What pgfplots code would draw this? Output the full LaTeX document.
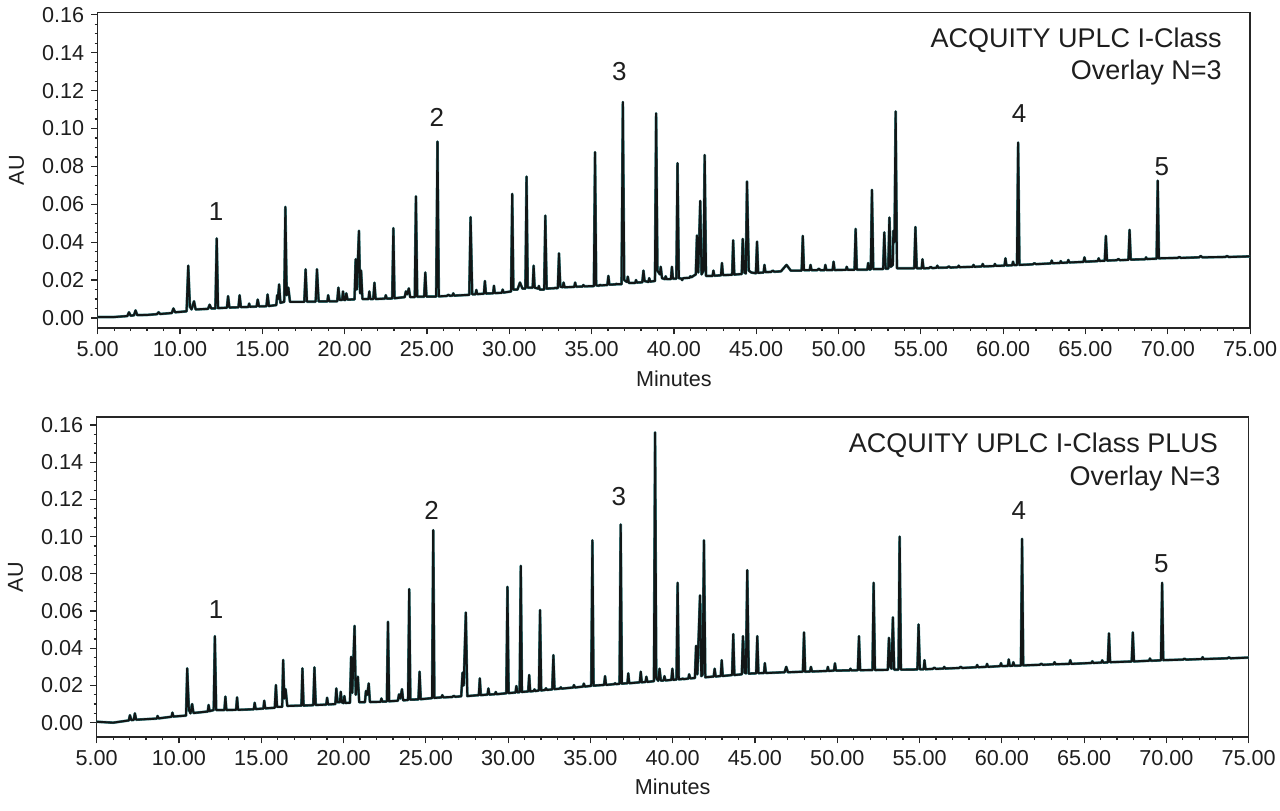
\documentclass[border=0pt]{standalone}
\usepackage{pgfplots}
\pgfplotsset{compat=1.18}
\usepackage{pgfplotstable}
\usepackage{fontspec}
\setmainfont{Liberation Sans}
\definecolor{txt}{HTML}{1E1E1E}
\definecolor{trace}{HTML}{121616}
\definecolor{teal2}{HTML}{3E8A8C}

\pgfplotstableread{
t v
5.00 0.0005
6.00 0.0005
6.80 0.0010
6.90 0.0030
7.00 0.0012
7.20 0.0014
7.30 0.0040
7.40 0.0015
8.00 0.0016
8.60 0.0020
8.70 0.0030
8.80 0.0021
9.50 0.0026
9.60 0.0050
9.70 0.0030
10.00 0.0032
10.40 0.0035
10.50 0.0276
10.60 0.0060
10.70 0.0045
10.85 0.0088
10.95 0.0045
11.70 0.0048
11.80 0.0070
11.90 0.0050
12.15 0.0050
12.23 0.0420
12.31 0.0052
12.85 0.0054
12.92 0.0115
13.00 0.0055
13.55 0.0056
13.62 0.0120
13.70 0.0057
14.15 0.0058
14.20 0.0076
14.25 0.0059
14.65 0.0060
14.72 0.0097
14.80 0.0061
15.25 0.0062
15.32 0.0124
15.40 0.0063
15.85 0.0068
15.90 0.0120
15.95 0.0100
16.02 0.0177
16.10 0.0080
16.33 0.0085
16.40 0.0586
16.48 0.0120
16.58 0.0160
16.68 0.0085
17.55 0.0085
17.63 0.0257
17.71 0.0086
18.24 0.0086
18.32 0.0257
18.42 0.0087
18.95 0.0087
19.00 0.0120
19.06 0.0088
19.55 0.0088
19.62 0.0160
19.70 0.0095
19.85 0.0095
19.90 0.0140
19.96 0.0095
20.05 0.0095
20.10 0.0130
20.18 0.0097
20.60 0.0098
20.67 0.0310
20.74 0.0150
20.87 0.0460
20.94 0.0130
21.00 0.0250
21.08 0.0100
21.45 0.0100
21.50 0.0140
21.56 0.0100
21.74 0.0100
21.81 0.0186
21.88 0.0100
22.45 0.0102
22.50 0.0120
22.56 0.0102
22.89 0.0103
22.96 0.0474
23.03 0.0104
23.65 0.0110
23.72 0.0140
23.80 0.0125
23.90 0.0156
23.98 0.0110
24.26 0.0110
24.33 0.0642
24.41 0.0112
24.83 0.0112
24.90 0.0240
24.97 0.0113
25.56 0.0113
25.64 0.0931
25.72 0.0114
26.20 0.0116
26.30 0.0122
26.40 0.0117
26.55 0.0118
26.60 0.0130
26.65 0.0118
27.57 0.0122
27.65 0.0532
27.75 0.0125
27.95 0.0125
28.00 0.0148
28.05 0.0126
28.46 0.0128
28.52 0.0195
28.58 0.0129
29.02 0.0130
29.07 0.0170
29.12 0.0131
29.55 0.0133
29.60 0.0150
29.65 0.0134
30.11 0.0140
30.18 0.0655
30.25 0.0150
30.50 0.0150
30.65 0.0187
30.80 0.0155
30.98 0.0155
31.05 0.0746
31.12 0.0160
31.42 0.0160
31.48 0.0276
31.54 0.0160
31.75 0.0155
31.80 0.0169
31.85 0.0150
32.12 0.0150
32.19 0.0540
32.27 0.0155
32.75 0.0157
32.80 0.0160
32.85 0.0157
32.95 0.0158
33.02 0.0341
33.10 0.0165
33.25 0.0162
33.30 0.0187
33.36 0.0162
33.95 0.0164
34.00 0.0187
34.06 0.0165
34.45 0.0166
34.50 0.0174
34.56 0.0167
35.14 0.0168
35.21 0.0875
35.28 0.0172
35.45 0.0170
35.50 0.0175
35.56 0.0172
35.96 0.0174
36.02 0.0222
36.08 0.0176
36.45 0.0177
36.50 0.0180
36.55 0.0178
36.82 0.0178
36.90 0.1140
36.98 0.0200
37.15 0.0190
37.20 0.0218
37.26 0.0185
37.65 0.0185
37.70 0.0200
37.75 0.0187
38.08 0.0188
38.15 0.0250
38.22 0.0195
38.45 0.0190
38.50 0.0210
38.56 0.0192
38.85 0.0195
38.92 0.1080
39.00 0.0250
39.15 0.0230
39.20 0.0270
39.28 0.0210
39.45 0.0205
39.50 0.0220
39.56 0.0205
39.82 0.0205
39.88 0.0270
39.94 0.0207
40.15 0.0207
40.22 0.0817
40.30 0.0210
40.45 0.0208
40.50 0.0200
40.56 0.0210
40.95 0.0212
41.00 0.0220
41.06 0.0215
41.33 0.0230
41.40 0.0435
41.48 0.0240
41.60 0.0618
41.68 0.0230
41.80 0.0250
41.87 0.0860
41.95 0.0222
42.35 0.0222
42.40 0.0250
42.46 0.0223
42.86 0.0225
42.92 0.0290
42.98 0.0226
43.54 0.0228
43.60 0.0410
43.67 0.0229
44.12 0.0232
44.18 0.0417
44.28 0.0240
44.37 0.0235
44.44 0.0720
44.55 0.0250
44.70 0.0240
44.98 0.0236
45.05 0.0403
45.12 0.0238
45.45 0.0240
45.50 0.0280
45.56 0.0242
45.90 0.0243
46.00 0.0250
46.10 0.0244
46.50 0.0246
46.84 0.0280
47.10 0.0250
47.76 0.0250
47.83 0.0433
47.90 0.0252
48.25 0.0252
48.30 0.0280
48.36 0.0252
48.70 0.0252
48.80 0.0260
48.90 0.0252
49.15 0.0252
49.20 0.0280
49.26 0.0253
49.64 0.0253
49.70 0.0297
49.76 0.0253
50.45 0.0254
50.50 0.0270
50.56 0.0254
50.97 0.0254
51.04 0.0470
51.11 0.0255
51.75 0.0255
51.80 0.0290
51.86 0.0256
51.96 0.0256
52.03 0.0676
52.11 0.0258
52.71 0.0258
52.78 0.0452
52.86 0.0260
53.02 0.0260
53.09 0.0530
53.17 0.0270
53.30 0.0280
53.33 0.0460
53.40 0.0400
53.47 0.1090
53.55 0.0262
54.60 0.0262
54.67 0.0480
54.75 0.0262
55.05 0.0262
55.10 0.0310
55.16 0.0262
55.50 0.0263
55.60 0.0270
55.70 0.0263
55.95 0.0265
56.00 0.0276
56.06 0.0265
56.60 0.0266
56.70 0.0272
56.80 0.0266
57.25 0.0268
57.30 0.0276
57.36 0.0268
58.15 0.0270
58.20 0.0280
58.26 0.0270
58.70 0.0272
58.76 0.0285
58.82 0.0272
59.45 0.0274
59.50 0.0285
59.56 0.0275
60.08 0.0276
60.14 0.0315
60.20 0.0277
60.55 0.0278
60.60 0.0297
60.66 0.0279
60.84 0.0279
60.91 0.0926
60.99 0.0280
61.80 0.0283
61.90 0.0289
62.00 0.0284
62.90 0.0288
62.95 0.0303
63.00 0.0289
63.45 0.0290
63.50 0.0300
63.55 0.0291
63.90 0.0292
63.96 0.0306
64.02 0.0293
64.88 0.0296
64.94 0.0320
65.00 0.0297
65.75 0.0300
65.80 0.0315
65.86 0.0301
66.17 0.0302
66.24 0.0433
66.31 0.0303
66.90 0.0305
67.00 0.0311
67.10 0.0305
67.61 0.0307
67.68 0.0465
67.75 0.0308
68.63 0.0310
68.68 0.0320
68.73 0.0311
69.32 0.0313
69.39 0.0725
69.46 0.0315
70.60 0.0317
70.70 0.0322
70.80 0.0317
71.90 0.0320
72.00 0.0327
72.10 0.0320
73.50 0.0322
73.60 0.0327
73.70 0.0322
75.00 0.0325
}\topdata

\pgfplotstableread{
t v
5.00 0.0005
6.00 0.0000
6.95 0.0012
7.02 0.0040
7.10 0.0014
7.25 0.0015
7.32 0.0050
7.40 0.0016
8.65 0.0022
8.70 0.0036
8.76 0.0023
9.55 0.0032
9.60 0.0054
9.66 0.0033
10.43 0.0038
10.50 0.0292
10.60 0.0070
10.70 0.0050
10.80 0.0100
10.88 0.0052
11.75 0.0060
11.80 0.0095
11.86 0.0062
12.11 0.0068
12.18 0.0465
12.26 0.0068
12.76 0.0068
12.82 0.0140
12.88 0.0068
13.47 0.0069
13.53 0.0136
13.59 0.0069
14.55 0.0072
14.60 0.0107
14.66 0.0073
15.13 0.0076
15.18 0.0118
15.24 0.0077
15.82 0.0080
15.89 0.0202
15.96 0.0085
16.27 0.0085
16.33 0.0337
16.40 0.0130
16.48 0.0180
16.58 0.0090
17.44 0.0092
17.50 0.0292
17.57 0.0092
18.16 0.0094
18.23 0.0297
18.31 0.0095
18.95 0.0097
19.00 0.0134
19.06 0.0098
19.50 0.0100
19.56 0.0184
19.63 0.0110
19.78 0.0110
19.83 0.0166
19.89 0.0110
20.00 0.0105
20.05 0.0143
20.11 0.0106
20.39 0.0107
20.46 0.0354
20.53 0.0160
20.67 0.0520
20.74 0.0150
20.87 0.0247
20.95 0.0110
21.30 0.0110
21.36 0.0170
21.44 0.0150
21.53 0.0211
21.60 0.0111
22.25 0.0112
22.30 0.0130
22.36 0.0113
22.63 0.0114
22.70 0.0542
22.77 0.0115
23.30 0.0118
23.37 0.0152
23.45 0.0130
23.55 0.0180
23.62 0.0120
23.92 0.0122
23.99 0.0718
24.06 0.0124
24.55 0.0125
24.62 0.0274
24.69 0.0126
25.38 0.0132
25.45 0.1035
25.52 0.0133
25.95 0.0136
26.00 0.0148
26.06 0.0136
26.60 0.0138
26.70 0.0144
26.80 0.0139
27.15 0.0142
27.23 0.0269
27.30 0.0200
27.43 0.0592
27.52 0.0143
28.22 0.0148
28.28 0.0238
28.34 0.0148
28.75 0.0151
28.80 0.0184
28.86 0.0151
29.20 0.0153
29.25 0.0165
29.30 0.0153
29.89 0.0158
29.96 0.0730
30.03 0.0159
30.45 0.0162
30.50 0.0197
30.56 0.0163
30.70 0.0164
30.77 0.0843
30.84 0.0165
31.22 0.0168
31.28 0.0256
31.34 0.0168
31.55 0.0170
31.60 0.0179
31.65 0.0170
31.87 0.0173
31.94 0.0605
32.01 0.0173
32.25 0.0176
32.30 0.0185
32.36 0.0176
32.68 0.0179
32.75 0.0363
32.82 0.0180
33.15 0.0183
33.20 0.0190
33.26 0.0183
33.95 0.0189
34.00 0.0202
34.06 0.0189
34.55 0.0194
34.60 0.0210
34.66 0.0194
35.05 0.0198
35.12 0.0980
35.19 0.0199
35.83 0.0203
35.89 0.0250
35.95 0.0203
36.45 0.0207
36.50 0.0212
36.55 0.0207
36.77 0.0209
36.84 0.1065
36.91 0.0210
37.25 0.0212
37.30 0.0265
37.36 0.0212
38.00 0.0217
38.06 0.0274
38.12 0.0217
38.35 0.0219
38.40 0.0247
38.46 0.0219
38.86 0.0223
38.93 0.1560
39.00 0.0240
39.12 0.0225
39.20 0.0290
39.28 0.0226
39.45 0.0227
39.50 0.0250
39.56 0.0227
39.92 0.0230
39.98 0.0290
40.04 0.0230
40.23 0.0232
40.30 0.0752
40.37 0.0233
40.55 0.0234
40.60 0.0238
40.66 0.0234
40.95 0.0237
41.00 0.0260
41.06 0.0238
41.35 0.0240
41.42 0.0413
41.50 0.0260
41.66 0.0684
41.74 0.0250
41.82 0.0260
41.90 0.0980
41.98 0.0244
42.49 0.0248
42.55 0.0290
42.61 0.0248
42.92 0.0251
42.98 0.0336
43.04 0.0251
43.61 0.0256
43.68 0.0476
43.75 0.0256
44.20 0.0260
44.27 0.0465
44.36 0.0270
44.45 0.0265
44.53 0.0820
44.62 0.0264
45.07 0.0265
45.14 0.0465
45.21 0.0266
45.55 0.0267
45.60 0.0320
45.66 0.0267
46.80 0.0271
46.90 0.0300
47.00 0.0271
47.91 0.0274
47.98 0.0485
48.05 0.0274
48.35 0.0275
48.40 0.0300
48.46 0.0275
49.38 0.0278
49.43 0.0300
49.48 0.0278
49.80 0.0280
49.86 0.0319
49.92 0.0280
50.75 0.0281
50.80 0.0290
50.86 0.0281
51.25 0.0282
51.32 0.0465
51.39 0.0282
52.14 0.0283
52.21 0.0752
52.29 0.0283
53.07 0.0284
53.14 0.0456
53.22 0.0300
53.30 0.0290
53.38 0.0566
53.46 0.0285
53.72 0.0285
53.79 0.1000
53.87 0.0285
54.87 0.0286
54.94 0.0528
55.02 0.0287
55.25 0.0287
55.30 0.0336
55.36 0.0287
55.80 0.0289
55.90 0.0296
56.00 0.0289
56.45 0.0291
56.50 0.0300
56.56 0.0291
57.40 0.0294
57.50 0.0300
57.60 0.0294
58.45 0.0298
58.50 0.0310
58.56 0.0298
59.05 0.0300
59.10 0.0316
59.16 0.0300
59.90 0.0304
59.95 0.0320
60.00 0.0304
60.37 0.0305
60.42 0.0340
60.48 0.0305
60.65 0.0306
60.70 0.0325
60.76 0.0306
61.16 0.0307
61.23 0.0988
61.30 0.0308
62.30 0.0311
62.40 0.0317
62.50 0.0311
63.15 0.0314
63.20 0.0325
63.26 0.0314
64.10 0.0316
64.16 0.0336
64.22 0.0316
65.45 0.0321
65.50 0.0330
65.56 0.0321
66.05 0.0323
66.10 0.0335
66.16 0.0323
66.44 0.0324
66.51 0.0480
66.58 0.0325
67.89 0.0329
67.96 0.0485
68.03 0.0329
68.95 0.0333
69.00 0.0345
69.06 0.0333
69.67 0.0335
69.74 0.0752
69.81 0.0336
71.00 0.0339
71.10 0.0344
71.20 0.0339
72.15 0.0342
72.20 0.0352
72.26 0.0342
73.70 0.0346
73.80 0.0351
73.90 0.0346
75.00 0.0350
}\botdata

\tikzset{plab/.style={font=\fontsize{13}{14}\selectfont, text=txt},
         ann/.style={font=\fontsize{13.5}{15}\selectfont, text=txt, anchor=east, inner sep=0pt}}

\pgfplotsset{
  chrom/.style={
    scale only axis,
    anchor=south west,
    xmin=5, xmax=75,
    axis line style={black!85, line width=0.8pt},
    tick style={black!85, line width=0.6pt},
    tick align=outside,
    major tick length=3.2pt,
    minor tick length=1.5pt,
    xtick={5,10,...,75},
    minor x tick num=4,
    ytick={0,0.02,...,0.16},
    minor y tick num=3,
    xtick pos=bottom, ytick pos=left,
    xticklabel style={font=\fontsize{10.8}{12}\selectfont, text=txt},
    yticklabel style={font=\fontsize{10.8}{12}\selectfont, text=txt},
    /pgf/number format/assume math mode=true,
    xticklabel={\pgfmathprintnumber[fixed,fixed zerofill,precision=2]{\tick}},
    yticklabel={\pgfmathprintnumber[fixed,fixed zerofill,precision=2]{\tick}},
    scaled y ticks=false,
    xlabel={Minutes}, ylabel={AU},
    label style={font=\fontsize{10.8}{12}\selectfont, text=txt},
    ylabel style={yshift=2.2pt},
    clip=true,
  },
}

\begin{document}
\begin{tikzpicture}
\useasboundingbox (0,0) rectangle (640pt,405pt);
\begin{axis}[chrom, at={(48.85pt,241pt)}, width=576.2pt, height=157.7pt,
  ymin=-0.0053, ymax=0.1612, xlabel style={yshift=0pt}]
  \addplot[teal2, line width=1.35pt, line join=round] table[x=t,y=v] {\topdata};
  \addplot[trace, line width=1.0pt, line join=round] table[x=t,y=v] {\topdata};
  \node[plab] at (axis cs:12.19,0.056) {1};
  \node[plab] at (axis cs:25.6,0.1058) {2};
  \node[plab] at (axis cs:36.69,0.130) {3};
  \node[plab] at (axis cs:60.97,0.108) {4};
  \node[plab] at (axis cs:69.64,0.080) {5};
  \node[ann] at (axis cs:73.3,0.1466) {ACQUITY UPLC I-Class};
  \node[ann] at (axis cs:73.3,0.1296) {Overlay N=3};
\end{axis}
\begin{axis}[chrom, at={(48.35pt,36.5pt)}, width=576pt, height=160pt,
  ymin=-0.0077, ymax=0.1643, xlabel style={yshift=0.5pt}]
  \addplot[teal2, line width=1.35pt, line join=round] table[x=t,y=v] {\botdata};
  \addplot[trace, line width=1.0pt, line join=round] table[x=t,y=v] {\botdata};
  \node[plab] at (axis cs:12.25,0.0609) {1};
  \node[plab] at (axis cs:25.35,0.114) {2};
  \node[plab] at (axis cs:36.73,0.1217) {3};
  \node[plab] at (axis cs:61.03,0.114) {4};
  \node[plab] at (axis cs:69.7,0.0856) {5};
  \node[ann] at (axis cs:73.15,0.1493) {ACQUITY UPLC I-Class PLUS};
  \node[ann] at (axis cs:73.3,0.1313) {Overlay N=3};
\end{axis}
\end{tikzpicture}
\end{document}
